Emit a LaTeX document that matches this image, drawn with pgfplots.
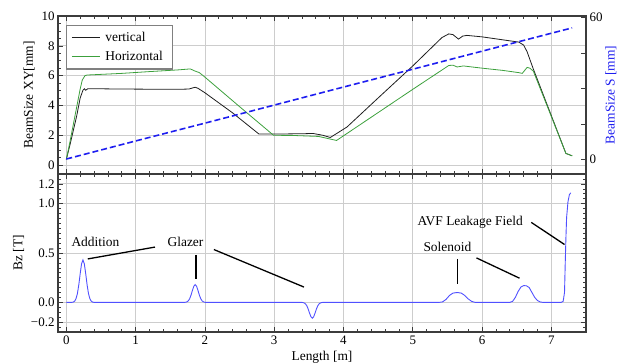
\documentclass[border=0pt]{standalone}
\usepackage{pgfplots}
\pgfplotsset{compat=1.18}
\usepackage{fontspec}
\setmainfont{Liberation Serif}
\definecolor{vcol}{RGB}{30,30,30}
\definecolor{hcol}{RGB}{60,160,60}
\definecolor{scol}{RGB}{30,30,240}
\definecolor{bcol}{RGB}{80,80,255}
\definecolor{framecol}{RGB}{60,60,60}
\definecolor{gridcol}{RGB}{205,205,205}
\pgfplotsset{
 common/.style={
  scale only axis, width=528bp, height=158bp,
  xmin=-0.12, xmax=7.5,
  axis line style={framecol, line width=1.2pt},
  tick style={framecol, line width=0.6pt},
  major tick length=5bp, minor tick length=3bp,
  xtick={0,1,2,3,4,5,6,7}, minor x tick num=4,
  major grid style={gridcol, line width=0.8pt},
  tick label style={font=\fontsize{13}{15}\selectfont},
  label style={font=\fontsize{13.5}{16}\selectfont},
  /pgf/number format/assume math mode=true,
 }
}
\begin{document}
\begin{tikzpicture}
% ---------- top panel, left axis ----------
\begin{axis}[common, at={(58bp,189bp)}, anchor=south west,
  ymin=-0.6, ymax=10,
  ytick={0,2,4,6,8,10}, yticklabels={0,2,4,6,8,10},
  minor y tick num=3, ytick pos=left,
  xticklabels={},
  grid=major,
  ylabel={BeamSize XY[mm]},
  legend style={at={(0.015,0.945)}, anchor=north west, draw=gray, line width=1.2pt,
    font=\fontsize{13.5}{16}\selectfont, inner xsep=5bp, inner ysep=5bp, row sep=4bp,
    nodes={inner xsep=5bp}},
  legend cell align=left,
  legend image code/.code={\draw[#1] (0bp,0bp) -- (28bp,0bp);},
]
\addplot[vcol, line width=0.8pt] coordinates {
(0,0.38) (0.05,1.3) (0.10,2.3) (0.15,3.3) (0.20,4.5) (0.24,5.02) (0.26,5.12) (0.28,5.02)
(0.31,5.12) (0.4,5.12) (0.8,5.1) (1.2,5.09) (1.6,5.08) (1.77,5.1) (1.82,5.17) (1.86,5.22)
(1.90,5.15) (2.0,4.85) (2.4,3.5) (2.78,2.08) (3.0,2.08) (3.4,2.1) (3.56,2.12) (3.7,2.0)
(3.81,1.85) (4.05,2.55) (4.5,4.5) (5.0,6.65) (5.42,8.55) (5.52,8.8) (5.58,8.75) (5.66,8.45)
(5.72,8.65) (5.78,8.7) (6.0,8.6) (6.3,8.4) (6.53,8.25) (6.6,8.05) (6.65,7.6) (6.74,6.44)
(7.0,3.31) (7.21,0.78) (7.30,0.62)
};
\addlegendentry{vertical}
\addplot[hcol, line width=0.8pt] coordinates {
(0,0.38) (0.05,1.5) (0.10,2.7) (0.15,3.9) (0.20,5.1) (0.23,5.7) (0.27,6.0) (0.3,6.04)
(0.8,6.15) (1.2,6.27) (1.6,6.38) (1.79,6.45) (1.85,6.32) (1.92,6.2) (2.0,5.9) (2.5,3.92)
(2.99,2.0) (3.3,1.98) (3.64,1.92) (3.90,1.65) (4.5,3.52) (5.0,5.08) (5.52,6.68) (5.58,6.7)
(5.64,6.58) (5.73,6.65) (6.0,6.5) (6.3,6.35) (6.53,6.2) (6.58,6.15) (6.65,6.55) (6.69,6.5)
(6.74,6.3) (7.0,3.25) (7.21,0.78) (7.30,0.62)
};
\addlegendentry{Horizontal}
\end{axis}
% ---------- top panel, right axis ----------
\begin{axis}[common, at={(58bp,189bp)}, anchor=south west,
  ymin=-6, ymax=60.5,
  axis x line=none, axis y line*=right,
  ytick={0,15,30,45,60}, yticklabels={0,,,,60},
  ylabel={BeamSize S [mm]}, ylabel style={color=scol}, ylabel shift=-4bp,
]
\addplot[scol, line width=1.6pt, dash pattern=on 6bp off 3bp] coordinates {
(0,0.3) (1,7.9) (2,15.4) (3,23.0) (4,30.6) (5,38.1) (6,45.7) (7.3,55.5)
};
\end{axis}
% ---------- bottom panel ----------
\begin{axis}[common, at={(58bp,31bp)}, anchor=south west,
  ymin=-0.3, ymax=1.3,
  ytick={-0.2,0,0.5,1,1.2}, yticklabels={−0.2,0.0,0.5,1.0,1.2},
  minor ytick={-0.3,-0.25,...,1.3},
  xticklabels={0,1,2,3,4,5,6,7},
  grid=major,
  xlabel={Length [m]}, ylabel={Bz [T]},
]
\addplot[bcol, line width=0.9pt] coordinates {
(0,0) (0.08,0) (0.10,0.003) (0.12,0.012) (0.14,0.037) (0.16,0.089) (0.18,0.177) (0.20,0.29)
(0.22,0.39) (0.24,0.43) (0.26,0.39) (0.28,0.29) (0.30,0.177) (0.32,0.089) (0.34,0.037)
(0.36,0.012) (0.38,0.003) (0.40,0)
(1.70,0) (1.72,0.001) (1.74,0.005) (1.76,0.015) (1.78,0.037) (1.80,0.074) (1.82,0.121)
(1.84,0.163) (1.86,0.18) (1.88,0.163) (1.90,0.121) (1.92,0.074) (1.94,0.037) (1.96,0.015)
(1.98,0.005) (2.00,0.001) (2.02,0)
(3.39,0) (3.41,-0.001) (3.43,-0.005) (3.45,-0.014) (3.47,-0.033) (3.49,-0.066) (3.51,-0.108)
(3.53,-0.145) (3.55,-0.16) (3.57,-0.145) (3.59,-0.108) (3.61,-0.066) (3.63,-0.033)
(3.65,-0.014) (3.67,-0.005) (3.69,-0.001) (3.71,0)
(5.38,0) (5.43,0.005) (5.48,0.03) (5.53,0.07) (5.58,0.094) (5.64,0.10) (5.70,0.094)
(5.75,0.07) (5.80,0.035) (5.85,0.01) (5.90,0)
(6.40,0) (6.44,0.01) (6.48,0.05) (6.52,0.11) (6.56,0.155) (6.60,0.17) (6.64,0.168)
(6.68,0.15) (6.72,0.10) (6.76,0.05) (6.80,0.018) (6.84,0.004) (6.88,0)
(7.14,0) (7.17,0.01) (7.19,0.1) (7.20,0.39) (7.21,0.65) (7.22,0.86) (7.24,1.02) (7.26,1.09)
(7.28,1.11)
};
\begin{scope}[font=\fontsize{13.5}{16}\selectfont]
\node at (axis cs:0.42,0.61) {Addition};
\node at (axis cs:1.72,0.61) {Glazer};
\node at (axis cs:5.83,0.81) {AVF Leakage Field};
\node at (axis cs:5.50,0.56) {Solenoid};
\end{scope}
\begin{scope}[black, line width=1.3pt]
\draw (axis cs:0.31,0.44) -- (axis cs:1.28,0.56);
\draw (axis cs:1.87,0.48) -- (axis cs:1.87,0.24);
\draw (axis cs:2.13,0.535) -- (axis cs:3.43,0.155);
\draw (axis cs:6.71,0.81) -- (axis cs:7.19,0.586);
\draw (axis cs:5.65,0.44) -- (axis cs:5.65,0.19);
\draw (axis cs:5.92,0.45) -- (axis cs:6.54,0.245);
\end{scope}
\end{axis}
\pgfresetboundingbox
\useasboundingbox (0,0) rectangle (618bp,363bp);
\end{tikzpicture}
\end{document}
